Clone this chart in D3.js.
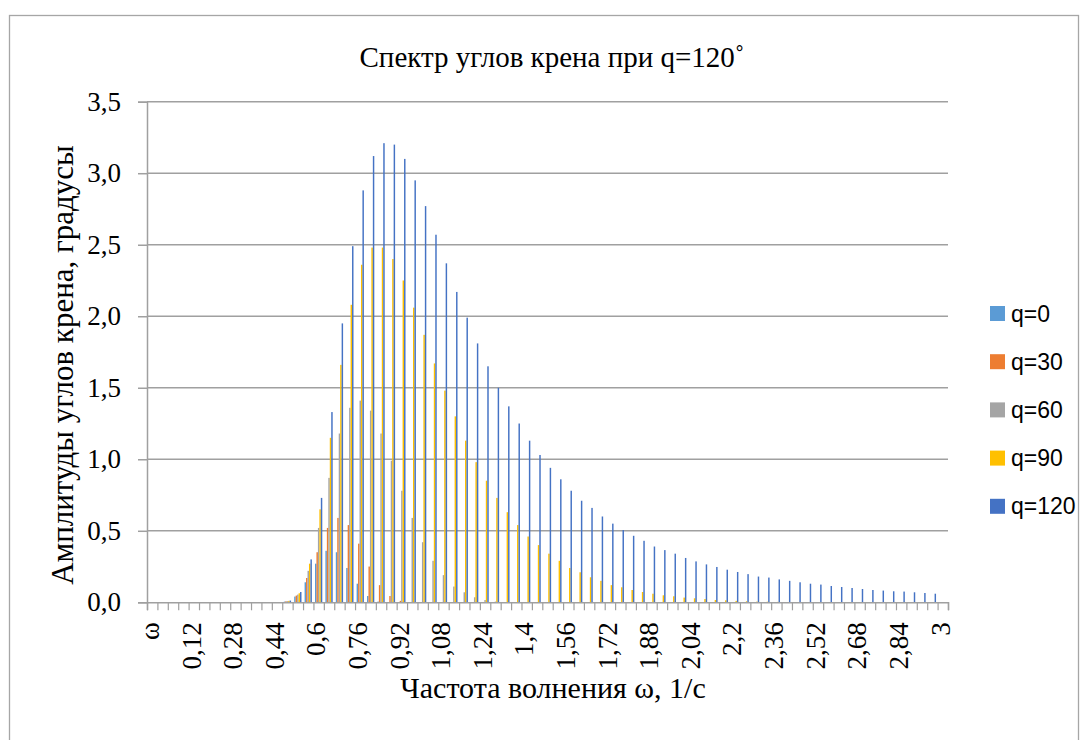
<!DOCTYPE html>
<html>
<head>
<meta charset="utf-8">
<script src="https://cdn.jsdelivr.net/npm/d3@7"></script>
<style>
  body { margin: 0; background: #fff; }
  svg { display: block; }
</style>
</head>
<body>
<svg width="1092" height="740"></svg>
<script>
// categories: first one is the header "ω", then 0,00 ... 3,00 step 0,04
var categories = ["ω"].concat(d3.range(76).map(function(i) { return +(i * 0.04).toFixed(2); }));

var seriesNames = ["q=0", "q=30", "q=60", "q=90", "q=120"];
var colors = ["#5B9BD5", "#ED7D31", "#A5A5A5", "#FFC000", "#4472C4"];

// values, index 13 (0,48) onward; everything before is 0
var q0 = [0.005, 0.04, 0.14, 0.27, 0.36, 0.35, 0.24, 0.13, 0.044, 0.005];
var q30 = [0.007, 0.047, 0.17, 0.35, 0.52, 0.59, 0.54, 0.41, 0.25, 0.12, 0.044, 0.01];
var q60 = [0.008, 0.054, 0.22, 0.52, 0.87, 1.18, 1.36, 1.41, 1.34, 1.18, 0.99, 0.78,
           0.59, 0.42, 0.29, 0.19, 0.11, 0.07, 0.035, 0.016, 0.005];
var q90 = [0.01, 0.063, 0.27, 0.65, 1.15, 1.66, 2.08, 2.36, 2.48, 2.48, 2.40, 2.25,
           2.06, 1.87, 1.67, 1.48, 1.30, 1.13, 0.98, 0.85, 0.73, 0.63, 0.54, 0.46,
           0.40, 0.34, 0.29, 0.24, 0.21, 0.175, 0.15, 0.12, 0.105, 0.086, 0.072, 0.06,
           0.049, 0.042, 0.033, 0.028, 0.023, 0.016, 0.014, 0.01, 0.007, 0.005, 0.004, 0.003];
var q120 = [0.012, 0.072, 0.30, 0.73, 1.33, 1.95, 2.49, 2.88, 3.12, 3.21, 3.20, 3.10,
            2.95, 2.77, 2.57, 2.37, 2.17, 1.99, 1.81, 1.65, 1.50, 1.37, 1.25, 1.13,
            1.03, 0.94, 0.86, 0.78, 0.71, 0.66, 0.60, 0.55, 0.505, 0.465, 0.43, 0.39,
            0.365, 0.34, 0.31, 0.286, 0.265, 0.247, 0.228, 0.212, 0.197, 0.18, 0.173, 0.16,
            0.15, 0.14, 0.13, 0.124, 0.114, 0.107, 0.10, 0.093, 0.086, 0.082, 0.077, 0.075,
            0.07, 0.065, 0.06, 0];
var startIndex = 13;

var yTicks = [0, 0.5, 1, 1.5, 2, 2.5, 3, 3.5];

function fullSeries(arr) {
  return categories.map(function(c, i) {
    var k = i - startIndex;
    return (k >= 0 && k < arr.length) ? arr[k] : 0;
  });
}
var series = [q0, q30, q60, q90, q120].map(fullSeries);

var svg = d3.select("svg");
var plotLeft = 147, plotRight = 948, plotTop = 101.7, plotBottom = 602.3;

var fmt = function(d) { return String(d).replace(".", ","); };

// outer chart border
svg.append("rect")
    .attr("x", 9.5).attr("y", 15.5)
    .attr("width", 1069).attr("height", 740)
    .attr("fill", "none")
    .attr("stroke", "#a6a6a6")
    .attr("stroke-width", 1.3);

var x = d3.scaleBand()
    .domain(d3.range(categories.length))
    .range([plotLeft, plotRight])
    .paddingInner(0.3)
    .paddingOuter(0.15);

var xs = d3.scaleBand()
    .domain(d3.range(seriesNames.length))
    .range([0, x.bandwidth()]);

var y = d3.scaleLinear().domain([0, 3.5]).range([plotBottom, plotTop]);

// gridlines
svg.append("g")
    .selectAll("line")
    .data(yTicks.slice(1))
    .enter().append("line")
    .attr("x1", plotLeft).attr("x2", plotRight)
    .attr("y1", function(d) { return y(d); })
    .attr("y2", function(d) { return y(d); })
    .attr("stroke", "#a0a0a0")
    .attr("stroke-width", 1.5);

// y axis
var yAxis = svg.append("g")
    .attr("transform", "translate(" + plotLeft + ",0)")
    .call(d3.axisLeft(y).tickValues(yTicks).tickSize(9).tickPadding(17)
      .tickFormat(function(d) { return d.toFixed(1).replace(".", ","); }));
yAxis.select(".domain").attr("stroke", "#a0a0a0").attr("stroke-width", 1.5);
yAxis.selectAll(".tick line").attr("stroke", "#a0a0a0").attr("stroke-width", 1.5);
yAxis.selectAll(".tick text")
    .attr("font-family", "'Liberation Serif', serif")
    .attr("font-size", 27)
    .attr("fill", "#000");

// bars
var groups = svg.append("g")
    .selectAll("g")
    .data(series)
    .enter().append("g")
    .attr("fill", function(d, i) { return colors[i]; });

groups.each(function(vals, s) {
  d3.select(this).selectAll("rect")
      .data(vals.map(function(v, i) { return { i: i, v: v }; }).filter(function(d) { return d.v > 0; }))
      .enter().append("rect")
      .attr("x", function(d) { return x(d.i) + xs(s); })
      .attr("width", xs.bandwidth())
      .attr("y", function(d) { return y(d.v); })
      .attr("height", function(d) { return plotBottom - y(d.v); });
});

// x axis: baseline + ticks at category boundaries
var boundary = d3.scaleLinear().domain([0, categories.length]).range([plotLeft, plotRight]);
var xAxisTicks = svg.append("g")
    .attr("transform", "translate(0," + plotBottom + ")")
    .call(d3.axisBottom(boundary).tickValues(d3.range(categories.length + 1)).tickSize(8).tickFormat(""));
xAxisTicks.select(".domain").attr("stroke", "#a0a0a0").attr("stroke-width", 1.5);
xAxisTicks.selectAll(".tick line").attr("stroke", "#a0a0a0").attr("stroke-width", 1.2);

// x labels, every 4th category, rotated
svg.append("g")
    .selectAll("text")
    .data(d3.range(0, categories.length, 4))
    .enter().append("text")
    .attr("transform", function(i) {
      return "translate(" + (x(i) + x.bandwidth() / 2) + "," + (plotBottom + 20) + ") rotate(-90)";
    })
    .attr("dy", "0.25em")
    .attr("text-anchor", "end")
    .attr("font-family", "'Liberation Serif', serif")
    .attr("font-size", 27)
    .attr("fill", "#000")
    .text(function(i) { return fmt(categories[i]); });

// title
svg.append("text")
    .attr("x", 552).attr("y", 67)
    .attr("text-anchor", "middle")
    .attr("font-family", "'Liberation Serif', serif")
    .attr("font-size", 29)
    .attr("fill", "#000")
    .text("Спектр углов крена при q=120˚");

// axis titles
svg.append("text")
    .attr("x", 553).attr("y", 698)
    .attr("text-anchor", "middle")
    .attr("font-family", "'Liberation Serif', serif")
    .attr("font-size", 30)
    .attr("fill", "#000")
    .text("Частота волнения ω, 1/с");

svg.append("text")
    .attr("transform", "translate(73,365) rotate(-90)")
    .attr("text-anchor", "middle")
    .attr("font-family", "'Liberation Serif', serif")
    .attr("font-size", 31)
    .attr("fill", "#000")
    .text("Амплитуды углов крена, градусы");

// legend
var legend = svg.append("g")
    .selectAll("g")
    .data(seriesNames)
    .enter().append("g")
    .attr("transform", function(d, i) { return "translate(990," + (313.5 + i * 48.2) + ")"; });

legend.append("rect")
    .attr("x", 0).attr("y", -7.5)
    .attr("width", 15).attr("height", 15)
    .attr("fill", function(d, i) { return colors[i]; });

legend.append("text")
    .attr("x", 21).attr("y", 0)
    .attr("dy", "0.35em")
    .attr("font-family", "'Liberation Sans', sans-serif")
    .attr("font-size", 23)
    .attr("fill", "#000")
    .text(function(d) { return d; });
</script>
</body>
</html>
